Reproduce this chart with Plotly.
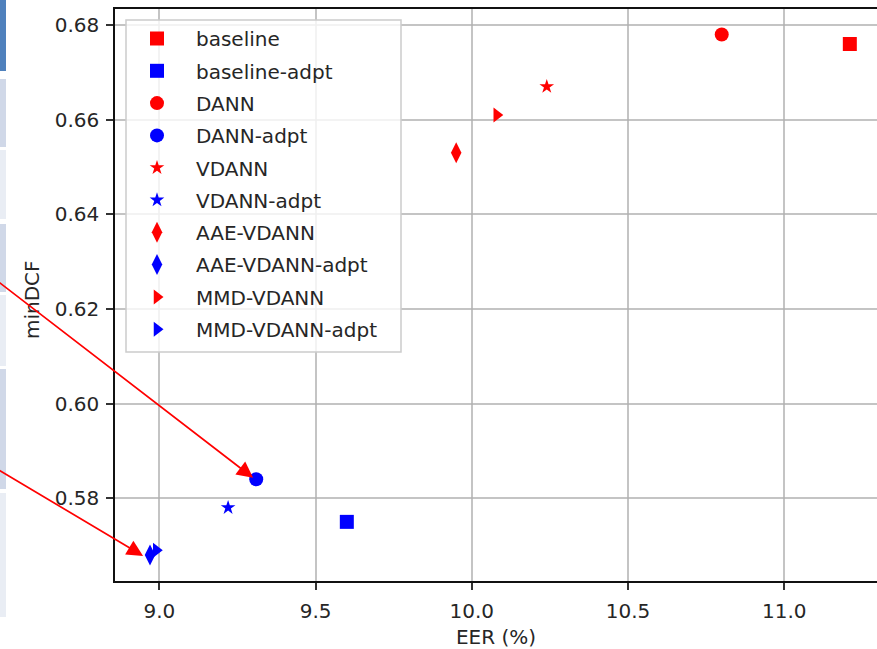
import plotly.graph_objects as go

# ---- data ----
methods = ["baseline", "DANN", "VDANN", "AAE-VDANN", "MMD-VDANN"]
symbols = ["square", "circle", "star", "diamond-tall", "triangle-right"]
sizes = [14, 14, 11, 15, 13]
eer_base = [11.21, 10.80, 10.24, 9.95, 10.08]
dcf_base = [0.676, 0.678, 0.667, 0.653, 0.661]
eer_adpt = [9.60, 9.31, 9.22, 8.97, 8.99]
dcf_adpt = [0.575, 0.584, 0.578, 0.568, 0.569]

x_ticks = [9.0, 9.5, 10.0, 10.5, 11.0]
y_ticks = [0.58, 0.60, 0.62, 0.64, 0.66, 0.68]

# arrows drawn on the chart: (tip_x, tip_y, tail_x, tail_y) in data units
arrows = [
    (9.300, 0.5843, 8.480, 0.6260),
    (8.948, 0.5678, 8.480, 0.5862),
]

W, H = 877, 649
ML, MR, MT, MB = 115, 0, 9, 68
PW, PH = W - ML - MR, H - MT - MB

FONT = "DejaVu Sans"


def px_to_paper_x(px):
    return (px - ML) / PW


def px_to_paper_y(py):
    return 1 - (py - MT) / PH


fig = go.Figure()
for i, m in enumerate(methods):
    fig.add_trace(go.Scatter(
        x=[eer_base[i]], y=[dcf_base[i]], mode="markers", name=m,
        legendgroup=m,
        marker=dict(symbol=symbols[i], size=sizes[i], color="#ff0000", line=dict(width=0)),
    ))
    fig.add_trace(go.Scatter(
        x=[eer_adpt[i]], y=[dcf_adpt[i]], mode="markers", name=m + "-adpt",
        legendgroup=m + "-adpt",
        marker=dict(symbol=symbols[i], size=sizes[i], color="#0000ff", line=dict(width=0)),
    ))

annotations = []
for tx, ty, sx, sy in arrows:
    annotations.append(dict(
        x=tx, y=ty, ax=sx, ay=sy, xref="x", yref="y", axref="x", ayref="y",
        text="", showarrow=True, arrowhead=2, arrowsize=1.9, arrowwidth=1.7,
        arrowcolor="#ff0000", standoff=0,
    ))

# y-axis title placed like the reference
annotations.insert(0, dict(
    text="minDCF", textangle=-90, showarrow=False,
    xref="paper", yref="paper",
    x=px_to_paper_x(32), y=px_to_paper_y(300),
    xanchor="center", yanchor="middle",
    font=dict(family=FONT, size=20, color="#262626"),
))

# decorative strip at the far left (slide background captured in the screenshot)
strip = [
    (0, 71, "#4f81bd"),
    (79, 147, "#d0d8e8"),
    (150, 219, "#e9edf4"),
    (224, 292, "#d0d8e8"),
    (295, 366, "#e9edf4"),
    (369, 489, "#d0d8e8"),
    (493, 617, "#e9edf4"),
]
shapes = []
for y0, y1, c in strip:
    shapes.append(dict(
        type="rect", xref="paper", yref="paper",
        x0=px_to_paper_x(0), x1=px_to_paper_x(6),
        y0=px_to_paper_y(y1), y1=px_to_paper_y(y0),
        fillcolor=c, line=dict(width=0), layer="below",
    ))

# legend frame (matplotlib-style, semi-transparent, above the grid)
shapes.append(dict(
    type="rect", xref="paper", yref="paper",
    x0=px_to_paper_x(126), x1=px_to_paper_x(401),
    y0=px_to_paper_y(352), y1=px_to_paper_y(20),
    fillcolor="rgba(255,255,255,0.8)", line=dict(color="#cccccc", width=1.5),
    layer="above",
))

fig.update_layout(
    width=W, height=H,
    margin=dict(l=ML, r=MR, t=MT, b=MB, autoexpand=False),
    paper_bgcolor="white", plot_bgcolor="white",
    font=dict(family=FONT, size=20, color="#262626"),
    showlegend=True,
    legend=dict(
        x=px_to_paper_x(118), y=px_to_paper_y(19), xanchor="left", yanchor="top",
        bgcolor="rgba(0,0,0,0)", borderwidth=0,
        font=dict(family=FONT, size=20, color="#262626"),
        itemwidth=68, tracegroupgap=3.3, traceorder="grouped",
    ),
    xaxis=dict(
        range=[8.858, 11.297], tickvals=x_ticks, tickformat=".1f",
        showgrid=True, gridcolor="rgba(176,176,176,0.75)", gridwidth=1.5,
        showline=True, linecolor="#111111", linewidth=1.5, mirror=True,
        ticks="outside", ticklen=7, tickwidth=1.5, tickcolor="#333333",
        ticklabelstandoff=4,
        zeroline=False,
        title=dict(text="EER (%)", standoff=8, font=dict(family=FONT, size=20)),
    ),
    yaxis=dict(
        range=[0.5625, 0.6834], tickvals=y_ticks, tickformat=".2f",
        showgrid=True, gridcolor="rgba(176,176,176,0.75)", gridwidth=1.5,
        showline=True, linecolor="#111111", linewidth=1.5, mirror=False,
        ticks="outside", ticklen=7, tickwidth=1.5, tickcolor="#333333",
        ticklabelstandoff=3,
        zeroline=False,
    ),
    annotations=annotations,
    shapes=shapes,
)

# remove the browser's default 8px body margin so the figure fills the window
fig.write_html(
    "out.html",
    config={"displayModeBar": False},
    post_script="document.body.style.margin='0';",
)
